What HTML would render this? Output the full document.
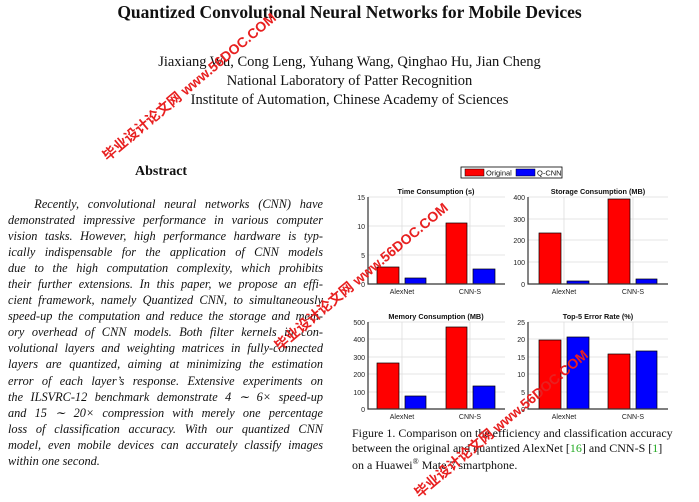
<!DOCTYPE html>
<html><head><meta charset="utf-8"><style>
body{margin:0;width:699px;height:487px;background:#fff;overflow:hidden;position:relative;font-family:"Liberation Serif",serif;color:#111}
.a{position:absolute;white-space:nowrap}
.ab{position:absolute;left:8px;width:315px;font-style:italic;font-size:12.3px;line-height:16.05px;text-align:justify;top:196px}
.ab span{display:block;text-align:justify;text-align-last:justify;height:16.05px;white-space:nowrap;overflow:visible}
.wm{position:absolute;color:#e82020;font-family:"Liberation Sans","Noto Sans CJK SC",sans-serif;font-weight:bold;white-space:nowrap;transform-origin:0 0}
</style></head><body>
<div class="a" style="left:0;width:699px;text-align:center;top:2px;font-size:17.5px;font-weight:bold">Quantized Convolutional Neural Networks for Mobile Devices</div>
<div class="a" style="left:0;width:699px;text-align:center;top:53px;font-size:14.5px;line-height:19px">Jiaxiang Wu, Cong Leng, Yuhang Wang, Qinghao Hu, Jian Cheng<br>National Laboratory of Patter Recognition<br>Institute of Automation, Chinese Academy of Sciences</div>
<div class="a" style="left:135px;top:164px;font-size:14px;font-weight:bold">Abstract</div>
<div class="ab">
<span>&nbsp;&nbsp;&nbsp;Recently, convolutional neural networks (CNN) have</span>
<span>demonstrated impressive performance in various computer</span>
<span>vision tasks. However, high performance hardware is typ-</span>
<span>ically indispensable for the application of CNN models</span>
<span>due to the high computation complexity, which prohibits</span>
<span>their further extensions. In this paper, we propose an effi-</span>
<span>cient framework, namely Quantized CNN, to simultaneously</span>
<span>speed-up the computation and reduce the storage and mem-</span>
<span>ory overhead of CNN models. Both filter kernels in con-</span>
<span>volutional layers and weighting matrices in fully-connected</span>
<span>layers are quantized, aiming at minimizing the estimation</span>
<span>error of each layer’s response. Extensive experiments on</span>
<span>the ILSVRC-12 benchmark demonstrate 4 ∼ 6× speed-up</span>
<span>and 15 ∼ 20× compression with merely one percentage</span>
<span>loss of classification accuracy. With our quantized CNN</span>
<span>model, even mobile devices can accurately classify images</span>
<span style="text-align-last:left">within one second.</span>
</div>
<svg class="a" style="left:0;top:0" width="699" height="487" font-family="Liberation Sans,sans-serif">
<g font-size="7.5" fill="#111">
<rect x="461" y="167" width="101" height="11" fill="#fff" stroke="#000" stroke-width="0.8"/>
<rect x="465" y="169" width="19" height="7" fill="#f00" stroke="#000" stroke-width="0.5"/><text x="486" y="175.5">Original</text>
<rect x="516" y="169" width="19" height="7" fill="#00f" stroke="#000" stroke-width="0.5"/><text x="537" y="175.5">Q-CNN</text>
</g>
<g stroke="#ddd" stroke-width="0.8">
<line x1="368" y1="197" x2="505" y2="197"/><line x1="368" y1="226" x2="505" y2="226"/><line x1="368" y1="255" x2="505" y2="255"/>
<line x1="402" y1="197" x2="402" y2="284"/><line x1="470" y1="197" x2="470" y2="284"/>
<line x1="528" y1="197" x2="668" y2="197"/><line x1="528" y1="219" x2="668" y2="219"/><line x1="528" y1="240" x2="668" y2="240"/><line x1="528" y1="262" x2="668" y2="262"/>
<line x1="564" y1="197" x2="564" y2="284"/><line x1="633" y1="197" x2="633" y2="284"/>
<line x1="368" y1="322" x2="505" y2="322"/><line x1="368" y1="339" x2="505" y2="339"/><line x1="368" y1="357" x2="505" y2="357"/><line x1="368" y1="374" x2="505" y2="374"/><line x1="368" y1="392" x2="505" y2="392"/>
<line x1="402" y1="322" x2="402" y2="409"/><line x1="470" y1="322" x2="470" y2="409"/>
<line x1="528" y1="322" x2="668" y2="322"/><line x1="528" y1="339" x2="668" y2="339"/><line x1="528" y1="357" x2="668" y2="357"/><line x1="528" y1="374" x2="668" y2="374"/><line x1="528" y1="392" x2="668" y2="392"/>
<line x1="564" y1="322" x2="564" y2="409"/><line x1="633" y1="322" x2="633" y2="409"/>
</g>
<g stroke="#000" stroke-width="0.7">
<rect x="377" y="267" width="22" height="17" fill="#f00"/><rect x="405" y="278" width="21" height="6" fill="#00f"/>
<rect x="446" y="223" width="21" height="61" fill="#f00"/><rect x="473" y="269" width="22" height="15" fill="#00f"/>
<rect x="539" y="233" width="22" height="51" fill="#f00"/><rect x="567" y="281" width="22" height="3" fill="#00f"/>
<rect x="608" y="199" width="22" height="85" fill="#f00"/><rect x="636" y="279" width="21" height="5" fill="#00f"/>
<rect x="377" y="363" width="22" height="46" fill="#f00"/><rect x="405" y="396" width="21" height="13" fill="#00f"/>
<rect x="446" y="327" width="21" height="82" fill="#f00"/><rect x="473" y="386" width="22" height="23" fill="#00f"/>
<rect x="539" y="340" width="22" height="69" fill="#f00"/><rect x="567" y="337" width="22" height="72" fill="#00f"/>
<rect x="608" y="354" width="22" height="55" fill="#f00"/><rect x="636" y="351" width="21" height="58" fill="#00f"/>
</g>
<g stroke="#333" stroke-width="1.2" fill="none">
<path d="M368 197V284H505"/><path d="M528 197V284H668"/><path d="M368 322V409H505"/><path d="M528 322V409H668"/>
</g>
<g font-size="7" fill="#222" text-anchor="end">
<text x="365" y="200">15</text><text x="365" y="229">10</text><text x="365" y="258">5</text><text x="365" y="287">0</text>
<text x="525" y="200">400</text><text x="525" y="222">300</text><text x="525" y="243">200</text><text x="525" y="265">100</text><text x="525" y="287">0</text>
<text x="365" y="325">500</text><text x="365" y="342">400</text><text x="365" y="360">300</text><text x="365" y="377">200</text><text x="365" y="395">100</text><text x="365" y="412">0</text>
<text x="525" y="325">25</text><text x="525" y="342">20</text><text x="525" y="360">15</text><text x="525" y="377">10</text><text x="525" y="395">5</text><text x="525" y="412">0</text>
</g>
<g font-size="7" fill="#222" text-anchor="middle">
<text x="402" y="294">AlexNet</text><text x="470" y="294">CNN-S</text><text x="564" y="294">AlexNet</text><text x="633" y="294">CNN-S</text>
<text x="402" y="419">AlexNet</text><text x="470" y="419">CNN-S</text><text x="564" y="419">AlexNet</text><text x="633" y="419">CNN-S</text>
</g>
<g font-size="7.3" font-weight="bold" fill="#111" text-anchor="middle">
<text x="436" y="194">Time Consumption (s)</text><text x="598" y="194">Storage Consumption (MB)</text>
<text x="436" y="319">Memory Consumption (MB)</text><text x="598" y="319">Top-5 Error Rate (%)</text>
</g>
</svg>
<div class="a" style="left:352px;top:426px;font-size:12px;line-height:14.5px">Figure 1. Comparison on the efficiency and classification accuracy<br>between the original and quantized AlexNet [<span style="color:#2a2">16</span>] and CNN-S [<span style="color:#2a2">1</span>]<br>on a Huawei<sup style="font-size:8px">®</sup> Mate 7 smartphone.</div>
<div class="wm" style="left:98px;top:150px;font-size:14px;transform:rotate(-40deg)">毕业设计论文网 www.56DOC.COM</div>
<div class="wm" style="left:270px;top:340px;font-size:14px;transform:rotate(-40deg)">毕业设计论文网 www.56DOC.COM</div>
<div class="wm" style="left:410px;top:487px;font-size:14px;transform:rotate(-40deg)">毕业设计论文网 www.56DOC.COM</div>
</body></html>
